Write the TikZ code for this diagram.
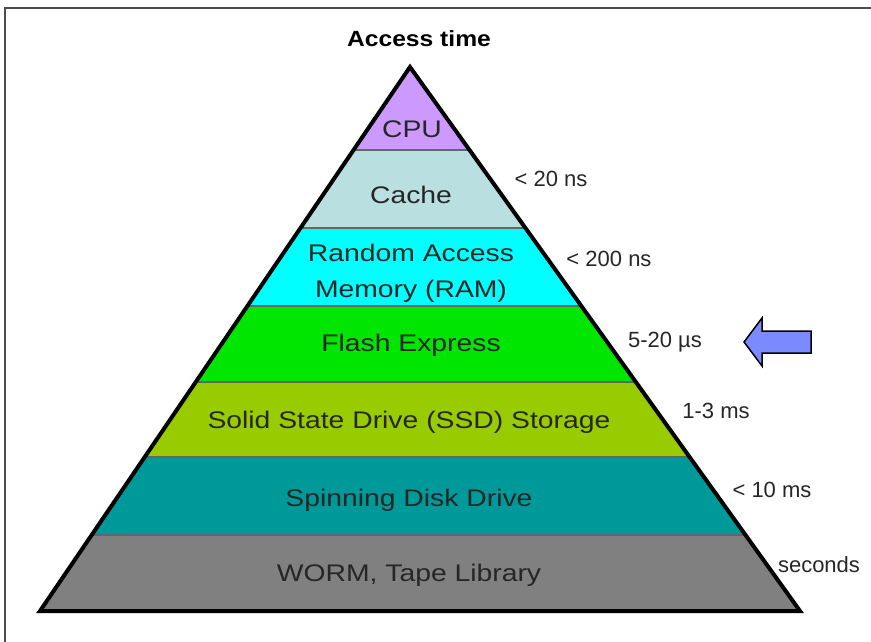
\documentclass[tikz,border=0pt]{standalone}
\usepackage{fontspec}
\setmainfont{Liberation Sans}
\newfontfamily\layerfont[FakeStretch=1.18]{Liberation Sans}
\newfontfamily\titlefont[FakeStretch=1.12]{Liberation Sans}
\definecolor{cpucol}{HTML}{CC99FF}
\definecolor{cachecol}{HTML}{B9DFE1}
\definecolor{ramcol}{HTML}{00FFFF}
\definecolor{flashcol}{HTML}{00E600}
\definecolor{ssdcol}{HTML}{99CC00}
\definecolor{diskcol}{HTML}{009999}
\definecolor{wormcol}{HTML}{808080}
\definecolor{flagcol}{HTML}{7B8BFF}

\begin{document}
\begin{tikzpicture}[x=1pt,y=-1pt,
  layer/.style={text=black!85,font=\layerfont\fontsize{24}{36}\selectfont,align=center},
  timelbl/.style={text=black!85,font=\fontsize{22}{26}\selectfont}]
  \useasboundingbox (0,0) rectangle (871,642);
  \draw[gray!60!black,line width=1.5] (5,642) -- (5,8) -- (871,8);
  \begin{scope}
    \clip (410,67) -- (800,611) -- (40,611) -- cycle;
    \foreach \ytop/\ybot/\col in {60/150/cpucol,150/228/cachecol,228/306/ramcol,
        306/382/flashcol,382/457/ssdcol,457/535/diskcol,535/620/wormcol}
      \fill[\col] (0,\ytop) rectangle (871,\ybot);
    \foreach \y in {150,228,306,382,457,535}
      \draw[black!60,line width=1.2] (0,\y) -- (871,\y);
  \end{scope}
  \draw[line width=4,line join=miter] (410,67) -- (800,611) -- (40,611) -- cycle;
  \node[font=\titlefont\bfseries\fontsize{22}{26}\selectfont] (title) at (419,39) {Access time};
  \node[layer] (cpu) at (412,129) {CPU};
  \node[layer] (cache) at (411,195) {Cache};
  \node[layer] (ram) at (411,273) {Random Access\\Memory (RAM)};
  \node[layer] (flash) at (411,345) {Flash Express};
  \node[layer] (ssd) at (409,422) {Solid State Drive (SSD) Storage};
  \node[layer] (disk) at (409,500) {Spinning Disk Drive};
  \node[layer] (worm) at (409,575) {WORM, Tape Library};
  \node[timelbl] (tcache) at (551,179) {< 20 ns};
  \node[timelbl] (tram) at (609,259) {< 200 ns};
  \node[timelbl] (tflash) at (665,342) {5-20 µs};
  \node[timelbl] (tssd) at (716,411) {1-3 ms};
  \node[timelbl] (tdisk) at (772,490) {< 10 ms};
  \node[timelbl] (tworm) at (819,565) {seconds};
  \draw[fill=flagcol,line width=1.5] (744,342) -- (762,318) -- (762,331) -- (811,331)
    -- (811,353) -- (762,353) -- (762,366) -- cycle;
\end{tikzpicture}
\end{document}
